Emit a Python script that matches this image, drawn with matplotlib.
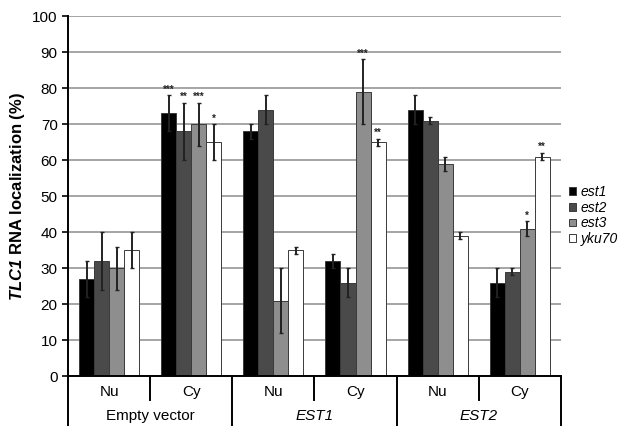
import matplotlib
matplotlib.use('Agg')
import matplotlib.pyplot as plt
import matplotlib.transforms as mtransforms
import numpy as np

plt.rcParams['font.family'] = ['Liberation Sans', 'DejaVu Sans']
plt.rcParams['mathtext.fontset'] = 'custom'
plt.rcParams['mathtext.bfit'] = 'Liberation Sans:bold:italic'
plt.rcParams['mathtext.rm'] = 'Liberation Sans'

# ── data ────────────────────────────────────────────────────
compartments = ['Nu', 'Cy', 'Nu', 'Cy', 'Nu', 'Cy']
constructs   = ['Empty vector', 'EST1', 'EST2']
construct_italic = [False, True, True]
series = ['est1', 'est2', 'est3', 'yku70']

est1  = [27, 73, 68, 32, 74, 26]
est2  = [32, 68, 74, 26, 71, 29]
est3  = [30, 70, 21, 79, 59, 41]
yku70 = [35, 65, 35, 65, 39, 61]

est1_err  = [5, 5, 2, 2, 4, 4]
est2_err  = [8, 8, 4, 4, 1, 1]
est3_err  = [6, 6, 9, 9, 2, 2]
yku70_err = [5, 5, 1, 1, 1, 1]

est1_sig  = ['', '***', '', '', '', '']
est2_sig  = ['', '**', '', '', '', '']
est3_sig  = ['', '***', '', '***', '', '*']
yku70_sig = ['', '*', '', '**', '', '**']

values = [est1, est2, est3, yku70]
errors = [est1_err, est2_err, est3_err, yku70_err]
sigs   = [est1_sig, est2_sig, est3_sig, yku70_sig]
colors = ['#000000', '#4a4a4a', '#8e8e8e', '#ffffff']

# ── figure ──────────────────────────────────────────────────
fig = plt.figure(figsize=(6.19, 4.26), dpi=100)
ax = fig.add_axes([0.110, 0.117, 0.796, 0.845])

x = np.arange(len(compartments))
w = 0.183
for i, (vals, errs, sg, col) in enumerate(zip(values, errors, sigs, colors)):
    xpos = x + (i - 1.5) * w
    ax.bar(xpos, vals, w, color=col, edgecolor='#3a3a3a', linewidth=0.7,
           label=series[i], zorder=2)
    ax.errorbar(xpos, vals, yerr=errs, fmt='none', ecolor='#222222',
                elinewidth=1.4, capsize=1.2, capthick=1.0, zorder=3)
    for xp, v, e, s in zip(xpos, vals, errs, sg):
        if s:
            ax.text(xp, v + e + 0.2, s, ha='center', va='bottom',
                    fontsize=7, fontweight='bold', color='#222222')

ax.set_xlim(-0.5, len(compartments) - 0.5)
ax.set_ylim(0, 100)
ax.set_yticks(np.arange(0, 101, 10))
ax.tick_params(axis='y', labelsize=11, length=4, width=1.2, direction='out')
ax.set_xticks([])
ax.grid(axis='y', color='#a5a5a5', lw=1.4, zorder=0)
ax.set_axisbelow(True)
for s in ['top', 'right']:
    ax.spines[s].set_visible(False)
ax.spines['left'].set_linewidth(1.4)
ax.spines['bottom'].set_linewidth(1.4)

ax.set_ylabel(r'$\bfit{TLC1}$ RNA localization (%)', fontsize=12,
              fontweight='bold', labelpad=4)

# category axis below the plot
trans = mtransforms.blended_transform_factory(ax.transData, ax.transAxes)
lo_short, lo_long = -0.067, -0.14
for b in np.arange(-0.5, len(compartments), 1.0):
    k = int(round(b + 0.5))
    bottom = lo_long if k % 2 == 0 else lo_short
    ax.plot([b, b], [0, bottom], color='black', lw=1.4,
            transform=trans, clip_on=False)
for xi, c in zip(x, compartments):
    ax.text(xi, -0.045, c, ha='center', va='center', fontsize=11,
            transform=trans)
for j, (c, it) in enumerate(zip(constructs, construct_italic)):
    ax.text(2 * j + 0.5, -0.11, c, ha='center', va='center', fontsize=11,
            style='italic' if it else 'normal', transform=trans)

leg = ax.legend(loc='upper left', bbox_to_anchor=(1.003, 0.55), frameon=False,
                fontsize=10, handlelength=0.5, handleheight=0.5,
                handletextpad=0.3, labelspacing=0.12, borderpad=0)
for t in leg.get_texts():
    t.set_style('italic')

fig.savefig('out.png', dpi=100)
